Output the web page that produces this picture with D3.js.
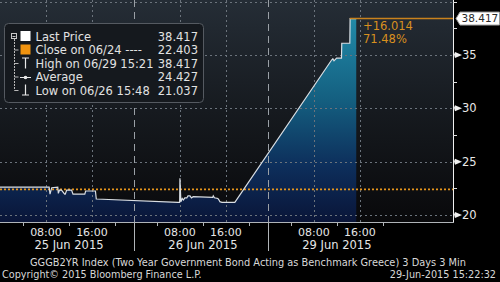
<!DOCTYPE html>
<html>
<head>
<meta charset="utf-8">
<script src="https://cdn.jsdelivr.net/npm/d3@7"></script>
<style>
  html, body { margin: 0; padding: 0; background: #000; }
  svg { display: block; font-family: "DejaVu Sans", sans-serif; }
</style>
</head>
<body>
<svg id="chart" width="500" height="282"></svg>
<script>
// trading days shown on the axis
const dayLabels = ["25 Jun 2015", "26 Jun 2015", "29 Jun 2015"];

// price points: day index, time of day (hours), yield
const pointDay = [0, 0, 0, 0, 0, 0, 0, 0, 0, 0, 0, 0, 0, 0, 0, 0, 0, 0,
    1, 1, 1, 1, 1, 1, 1, 1, 1, 1, 1, 1, 1, 1, 1, 1, 1, 1, 1, 1,
    2, 2, 2, 2, 2, 2, 2, 2, 2];
const pointHour = [0.0, 8.55, 8.7, 9.0, 10.05, 10.15, 10.35, 10.7, 11.25, 11.35, 11.6, 12.45, 12.7, 14.75, 14.9, 16.6, 16.75, 16.8,
    7.65, 7.95, 8.0, 8.17, 8.4, 8.6, 8.85, 9.2, 9.4, 9.75, 10.0, 10.3, 13.7, 13.8, 14.0, 14.6, 14.8, 14.95, 15.3, 17.55,
    11.08, 11.3, 11.5, 11.95, 12.8, 12.85, 14.25, 14.3, 15.37];
const pointValue = [22.62, 22.62, 21.95, 22.56, 22.62, 22.03, 22.34, 22.34, 21.95, 21.95, 22.34, 22.34, 21.95, 21.95, 22.25, 22.25, 21.5, 21.5,
    21.19, 21.19, 23.45, 21.25, 21.55, 21.4, 21.6, 21.6, 21.8, 21.8, 21.6, 21.72, 21.65, 21.8, 21.62, 21.55, 21.4, 21.25, 21.19, 21.19,
    34.53, 34.65, 34.45, 34.7, 34.7, 36.1, 36.1, 38.417, 38.417];

const yTicks = [20, 25, 30, 35];
const yMinorTicks = [22.5, 27.5, 32.5, 37.5, 40];
const labelHours = [8, 16];
const minorHours = [4, 12, 20];

const closeValue = 22.403;
const lastValue = 38.417;

const legendRows = [
    {label: "Last Price", value: "38.417", icon: "square", color: "#ffffff"},
    {label: "Close on 06/24 ----", value: "22.403", icon: "square", color: "#f0930f"},
    {label: "High on 06/29 15:21", value: "38.417", icon: "high"},
    {label: "Average", value: "24.427", icon: "avg"},
    {label: "Low on 06/26 15:48", value: "21.037", icon: "low"}
];

const width = 453, height = 222,
    sessionHours = 23.3;

const svg = d3.select("#chart");

const xScale = d3.scaleLinear().domain([0, 78.8]).range([0, width]);
const yScale = d3.scaleLinear().domain([20, 40]).range([215, 1.67]);
const xAt = (day, h) => xScale(day * sessionHours + h);

const points = pointValue.map((v, i) => ({x: xAt(pointDay[i], pointHour[i]), v: v}));

const defs = svg.append("defs");

const bg = defs.append("linearGradient")
    .attr("id", "bg").attr("x1", 0).attr("y1", 0).attr("x2", 0).attr("y2", 1);
bg.append("stop").attr("offset", "0%").attr("stop-color", "#252d36");
bg.append("stop").attr("offset", "50%").attr("stop-color", "#161a1f");
bg.append("stop").attr("offset", "100%").attr("stop-color", "#09090b");

const fill = defs.append("linearGradient")
    .attr("id", "fill").attr("gradientUnits", "userSpaceOnUse")
    .attr("x1", 0).attr("y1", 0).attr("x2", 0).attr("y2", height);
fill.append("stop").attr("offset", "0%").attr("stop-color", "#2494b1");
fill.append("stop").attr("offset", "45%").attr("stop-color", "#145f80");
fill.append("stop").attr("offset", "75%").attr("stop-color", "#0d2e5b");
fill.append("stop").attr("offset", "100%").attr("stop-color", "#0a1538");

svg.append("rect")
    .attr("width", width).attr("height", height)
    .attr("fill", "url(#bg)");

// price area + line
svg.append("path")
    .datum(points)
    .attr("fill", "url(#fill)")
    .attr("d", d3.area().x(d => d.x).y0(height).y1(d => yScale(d.v)));

// grid
const grid = svg.append("g").attr("stroke", "#6b737c").attr("stroke-width", 1);
grid.selectAll("line.h")
    .data(yTicks.concat([40]))
    .join("line")
    .attr("class", "h")
    .attr("x1", 0).attr("x2", width)
    .attr("y1", d => Math.round(yScale(d)) + 0.5)
    .attr("y2", d => Math.round(yScale(d)) + 0.5)
    .attr("stroke-dasharray", "2,3");

const vGrid = d3.cross(d3.range(dayLabels.length), labelHours);
grid.selectAll("line.v")
    .data(vGrid)
    .join("line")
    .attr("class", "v")
    .attr("x1", d => Math.round(xAt(d[0], d[1])) + 0.5)
    .attr("x2", d => Math.round(xAt(d[0], d[1])) + 0.5)
    .attr("y1", 0).attr("y2", height)
    .attr("stroke-dasharray", "2,3");

grid.selectAll("line.day")
    .data(d3.range(1, dayLabels.length))
    .join("line")
    .attr("class", "day")
    .attr("x1", d => Math.round(xAt(d, 0)) + 0.5)
    .attr("x2", d => Math.round(xAt(d, 0)) + 0.5)
    .attr("y1", 0).attr("y2", height)
    .attr("stroke", "#9aa0a6")
    .attr("stroke-dasharray", "7,5");

// close line
svg.append("line")
    .attr("x1", 0).attr("x2", width)
    .attr("y1", yScale(closeValue)).attr("y2", yScale(closeValue))
    .attr("stroke", "#e8961c").attr("stroke-width", 1.6)
    .attr("stroke-dasharray", "2,2");

svg.append("path")
    .datum(points)
    .attr("fill", "none")
    .attr("stroke", "#d9dee3")
    .attr("stroke-width", 1.2)
    .attr("d", d3.line().x(d => d.x).y(d => yScale(d.v)));

// last price marker line
svg.append("line")
    .attr("x1", points[points.length - 3].x).attr("x2", width)
    .attr("y1", yScale(lastValue)).attr("y2", yScale(lastValue))
    .attr("stroke", "#c9821d").attr("stroke-width", 1.5);

svg.append("text")
    .attr("x", 363).attr("y", 30)
    .attr("fill", "#d8901f").attr("font-size", 11.5)
    .text("+" + (lastValue - closeValue).toFixed(3));
svg.append("text")
    .attr("x", 363).attr("y", 43)
    .attr("fill", "#d8901f").attr("font-size", 11.5)
    .text(((lastValue - closeValue) / closeValue * 100).toFixed(2) + "%");

// right axis
svg.append("rect").attr("x", width + 0.5).attr("y", 0)
    .attr("width", 500 - width).attr("height", 282).attr("fill", "#000");
svg.append("rect").attr("x", 0).attr("y", height)
    .attr("width", 500).attr("height", 282 - height).attr("fill", "#000");

const yAxis = svg.append("g");
yAxis.append("line")
    .attr("x1", width + 0.5).attr("x2", width + 0.5)
    .attr("y1", 0).attr("y2", height + 1)
    .attr("stroke", "#f0f0f0");
yAxis.selectAll("line.minor")
    .data(yMinorTicks)
    .join("line")
    .attr("class", "minor")
    .attr("x1", width).attr("x2", width + 4)
    .attr("y1", d => Math.round(yScale(d)) + 0.5)
    .attr("y2", d => Math.round(yScale(d)) + 0.5)
    .attr("stroke", "#e0e0e0");
const major = yAxis.selectAll("g.major")
    .data(yTicks)
    .join("g")
    .attr("class", "major")
    .attr("transform", d => `translate(${width}, ${yScale(d)})`);
major.append("path")
    .attr("d", "M1,-0.5 L2,-3 L9,0 L2,3 Z")
    .attr("fill", "#f0f0f0");
major.append("text")
    .attr("x", 9).attr("dy", "0.36em")
    .attr("fill", "#e8e8e8").attr("font-size", 11.5)
    .text(d => d);

// last value tag
const tagY = yScale(lastValue);
yAxis.append("path")
    .attr("d", `M${width + 3},${tagY} L${width + 7},${tagY - 6.5} L499.5,${tagY - 6.5} L499.5,${tagY + 6.5} L${width + 7},${tagY + 6.5} Z`)
    .attr("fill", "#ffffff").attr("stroke", "#9a9a9a");
yAxis.append("text")
    .attr("x", width + 8.5).attr("y", tagY).attr("dy", "0.36em")
    .attr("fill", "#2a2a2a").attr("font-size", 10.5)
    .text(lastValue.toFixed(3));

// bottom axis
const xAxis = svg.append("g").attr("stroke", "#b0b4b8");
xAxis.append("line")
    .attr("x1", 0).attr("x2", width + 1)
    .attr("y1", height + 0.5).attr("y2", height + 0.5);
xAxis.selectAll("line.tick")
    .data(d3.cross(d3.range(dayLabels.length), minorHours))
    .join("line")
    .attr("class", "tick")
    .attr("x1", d => Math.round(xAt(d[0], d[1])) + 0.5)
    .attr("x2", d => Math.round(xAt(d[0], d[1])) + 0.5)
    .attr("y1", height).attr("y2", height + 4);
xAxis.selectAll("line.sep")
    .data(d3.range(1, dayLabels.length))
    .join("line")
    .attr("class", "sep")
    .attr("x1", d => Math.round(xAt(d, 0)) + 0.5)
    .attr("x2", d => Math.round(xAt(d, 0)) + 0.5)
    .attr("y1", height).attr("y2", 251);

svg.append("g").selectAll("text")
    .data(vGrid)
    .join("text")
    .attr("x", d => xAt(d[0], d[1]))
    .attr("y", 235.5)
    .attr("text-anchor", "middle")
    .attr("fill", "#e6e6e6").attr("font-size", 11)
    .text(d => d3.format("02")(d[1]) + ":00");

svg.append("g").selectAll("text")
    .data(dayLabels)
    .join("text")
    .attr("x", (d, i) => xAt(i, 12))
    .attr("y", 249)
    .attr("text-anchor", "middle")
    .attr("fill", "#e6e6e6").attr("font-size", 11.5)
    .text(d => d);

// footer
svg.append("text")
    .attr("x", 30).attr("y", 265.5)
    .attr("fill", "#d8d8d8").attr("font-size", 9.8)
    .text("GGGB2YR Index (Two Year Government Bond Acting as Benchmark Greece) 3 Days 3 Min");
svg.append("text")
    .attr("x", 2).attr("y", 278)
    .attr("fill", "#d8d8d8").attr("font-size", 9.7)
    .text("Copyright\u00a9 2015 Bloomberg Finance L.P.");
svg.append("text")
    .attr("x", 496).attr("y", 278)
    .attr("text-anchor", "end")
    .attr("fill", "#d8d8d8").attr("font-size", 9.7)
    .text("29-Jun-2015 15:22:32");

// legend
const legend = svg.append("g");
legend.append("rect")
    .attr("x", 4.5).attr("y", 23.5)
    .attr("width", 199).attr("height", 79)
    .attr("rx", 4)
    .attr("fill", "#15191e").attr("stroke", "#555a61");

const rowY = i => 36.5 + i * 13.5;

// tree connector
legend.append("rect")
    .attr("x", 11.5).attr("y", 33.5).attr("width", 5).attr("height", 5)
    .attr("fill", "none").attr("stroke", "#c8c8c8");
legend.append("line")
    .attr("x1", 12.5).attr("x2", 15.5).attr("y1", 36.5).attr("y2", 36.5)
    .attr("stroke", "#c8c8c8");
legend.append("line")
    .attr("x1", 14.5).attr("x2", 14.5).attr("y1", 39).attr("y2", rowY(4))
    .attr("stroke", "#b8b8b8").attr("stroke-dasharray", "2,1");
legend.selectAll("line.branch")
    .data(d3.range(1, legendRows.length))
    .join("line")
    .attr("class", "branch")
    .attr("x1", 14.5).attr("x2", 18.5)
    .attr("y1", i => rowY(i)).attr("y2", i => rowY(i))
    .attr("stroke", "#b8b8b8");

const rows = legend.selectAll("g.row")
    .data(legendRows)
    .join("g")
    .attr("class", "row")
    .attr("transform", (d, i) => `translate(0, ${rowY(i)})`);

rows.filter(d => d.icon === "square").append("rect")
    .attr("x", 20.5).attr("y", -5.5).attr("width", 10).attr("height", 10)
    .attr("fill", d => d.color);
rows.filter(d => d.icon === "high").append("path")
    .attr("d", "M22,-5.5 H29 M25.5,-5.5 V5")
    .attr("stroke", "#e8e8e8").attr("stroke-width", 1.2);
rows.filter(d => d.icon === "low").append("path")
    .attr("d", "M22,4.5 H29 M25.5,4.5 V-6")
    .attr("stroke", "#e8e8e8").attr("stroke-width", 1.2);
const avg = rows.filter(d => d.icon === "avg");
avg.append("line")
    .attr("x1", 20).attr("x2", 31).attr("y1", 0.5).attr("y2", 0.5)
    .attr("stroke", "#e8e8e8");
avg.append("circle")
    .attr("cx", 25.5).attr("cy", 0.5).attr("r", 1.8)
    .attr("fill", "#e8e8e8");

rows.append("text")
    .attr("x", 35.5).attr("dy", "0.38em")
    .attr("fill", "#e2e2e2").attr("font-size", 11.5)
    .text(d => d.label);
rows.append("text")
    .attr("x", 198).attr("dy", "0.38em")
    .attr("text-anchor", "end")
    .attr("fill", "#e2e2e2").attr("font-size", 11.5)
    .text(d => d.value);
</script>
</body>
</html>
